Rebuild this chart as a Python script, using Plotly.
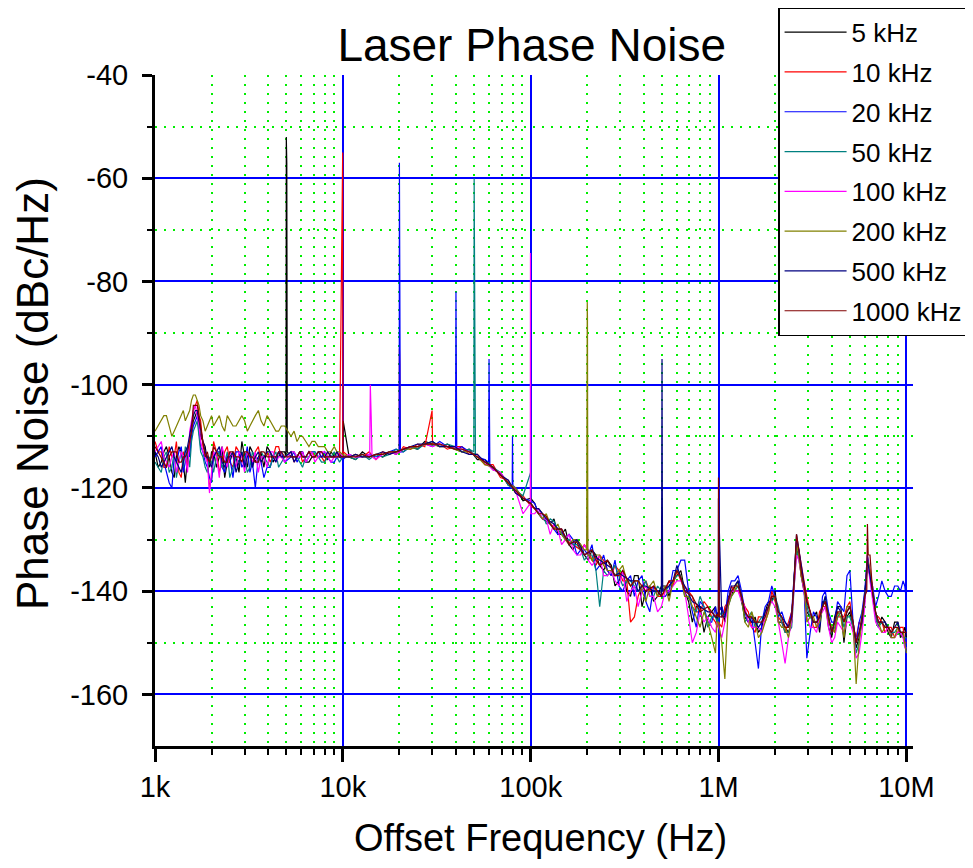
import plotly.graph_objects as go

# ---------------- data ----------------
FREQ_HZ = [
    1000, 1080, 1150, 1230, 1300, 1380, 1450, 1530, 1600, 1680, 1750, 1850, 1950, 2050, 2200,
    2350, 2500, 2700, 2900, 3100, 3300, 3550, 3800, 4100, 4400, 4700, 5300, 5700, 6100, 6600,
    7100, 7700, 8300, 9000, 9600,
    10000, 10800, 11700, 12700, 13800, 15000, 16300, 17700, 19200, 21000, 22900, 25000, 27300,
    30000, 32800, 36000, 39500, 43000, 47000, 52000, 57000, 63000, 69000, 76000, 83000, 91000,
    100000, 110000, 121000, 133000, 146000, 160000, 176000, 193000, 212000, 233000, 256000,
    281000, 309000, 340000, 373000, 410000, 451000, 496000, 545000, 600000, 660000, 725000,
    797000, 876000, 963000,
    1000000, 1080000, 1170000, 1270000, 1380000, 1500000, 1630000, 1770000, 1920000, 2080000,
    2260000, 2450000, 2600000, 2750000, 2950000, 3200000, 3450000, 3700000, 4000000, 4300000,
    4650000, 5000000, 5400000, 5800000, 6200000, 6600000, 7100000, 7700000, 8300000, 9000000,
    9600000, 10000000,
]

# extra in-between frequencies in the noisy regions
FREQ_MID_HZ = [
    1040, 1115, 1190, 1265, 1340, 1415, 1490, 1565, 1640, 1715, 1800, 1900, 2000, 2125, 2275,
    2425, 2600, 2800, 3000, 3200, 3420, 3670, 3950, 4250, 4550, 4900, 5500, 5900, 6350, 6850,
    7400, 8000, 8650, 9300,
    105000, 115500, 127000, 139500, 153000, 168000, 184500, 202500, 222500, 244500, 268500,
    295000, 324500, 356500, 391500, 430500, 473500, 520500, 572500, 630000, 692500, 761000,
    836500, 919500, 981500,
    1040000, 1125000, 1220000, 1325000, 1440000, 1565000, 1700000, 1845000, 2000000, 2170000,
    2355000, 2525000, 2675000, 2850000, 3075000, 3325000, 3575000, 3850000, 4150000, 4475000,
    4825000, 5200000, 5600000, 6000000, 6400000, 6850000, 7400000, 8000000, 8650000, 9300000,
    9800000,
]

SERIES_NAMES = ["5 kHz", "10 kHz", "20 kHz", "50 kHz", "100 kHz", "200 kHz", "500 kHz", "1000 kHz"]
SERIES_COLORS = ["#000000", "#FF0000", "#0000FF", "#008080", "#FF00FF", "#808000", "#000080", "#800000"]

PN_5K = [
    -113, -115, -112, -117, -114, -113, -119, -111, -107, -105, -110, -112, -116, -113, -114,
    -118, -115, -114, -111, -116, -113, -114, -116, -113, -114, -113, -114, -114, -113, -115,
    -114, -113, -114.5, -114, -113.5,
    -113.5, -114, -114.5, -113, -114, -113.5, -114, -113, -113.5, -112.5, -112, -112.5, -111,
    -111.5, -112, -111.5, -112.5, -113, -112.5, -114.5, -114.5, -116.5, -117, -119.5, -120, -122.5,
    -122, -125, -126.5, -126, -129, -131, -130, -133, -132, -135, -134, -139, -136, -141, -137,
    -140, -142, -139, -141, -137, -140, -146, -143, -145, -143,
    -144, -146, -141, -138, -145, -146, -148, -144, -142, -146, -147, -146, -132, -137, -144,
    -145, -148, -142, -149, -143, -150, -144, -151, -146, -135, -141, -147, -146, -149, -146,
    -148, -149,
]
PN_10K = [
    -111, -113, -116, -114, -111, -118, -114, -112, -105, -103, -107, -113, -120, -111, -117,
    -113, -115, -112, -114, -113, -116, -112, -114, -115, -112, -114, -113, -114, -115, -113,
    -114, -114, -113, -114, -114,
    -114, -114, -113.5, -114, -113, -114.5, -113, -113.5, -113, -112, -112.5, -111.5, -112,
    -111, -111.5, -112.5, -112, -112, -113.5, -113.5, -115.5, -115.5, -118, -118.5, -121, -121.5,
    -123.5, -124, -125.5, -127.5, -128, -130.5, -131.5, -131, -134, -133, -136, -135, -138, -146,
    -141, -138, -139, -141, -138, -136, -139, -141, -144, -143, -146,
    -146, -143, -139, -140, -143, -147, -145, -146, -140, -145, -148, -144, -131, -135, -141,
    -147, -144, -143, -147, -145, -145, -142, -149, -147, -133, -139, -145, -148, -147, -148,
    -147, -150,
]
PN_20K = [
    -114, -112, -117, -120, -115, -112, -115, -114, -108, -106, -112, -115, -118, -114, -113,
    -117, -114, -113, -116, -112, -115, -114, -118, -116, -114, -113, -114, -115, -113, -114,
    -113, -114, -114, -115, -114,
    -114.5, -113.5, -114, -114, -113.5, -114, -113.5, -113, -112.5, -113, -112, -112, -111.5,
    -112, -111, -112, -112.5, -112, -113, -114, -114.5, -116, -117.5, -119, -120, -122,
    -122.5, -125, -126, -128, -128.5, -129, -133, -132, -131, -135, -136, -134, -140, -137, -138,
    -142, -139, -141, -140, -136, -134, -144, -142, -146, -143,
    -144, -145, -138, -137, -144, -145, -155, -143, -139, -145, -146, -144, -130, -136, -153,
    -144, -147, -140, -146, -142, -144, -136, -150, -144, -133, -139, -141, -140, -141, -139,
    -138, -142,
]
PN_50K = [
    -115, -117, -113, -116, -118, -113, -112, -116, -109, -107, -113, -116, -114, -117, -113,
    -115, -118, -114, -113, -117, -113, -115, -114, -116, -113, -115, -113, -114, -116, -114,
    -113, -115, -114, -113, -115,
    -114, -114, -114.5, -113.5, -114.5, -113.5, -114, -113.5, -112.5, -113, -112, -112.5, -111.5,
    -111, -112, -111.5, -112, -113, -112.5, -114, -115, -116, -117, -119.5, -120.5, -121.5,
    -123, -124, -127, -126.5, -129, -130, -131, -134, -133, -143, -137, -135, -139, -138, -140,
    -138, -141, -140, -139, -137, -141, -143, -141, -147, -145,
    -145, -145, -141, -139, -146, -144, -146, -145, -142, -143, -148, -147, -132, -136, -143,
    -146, -146, -141, -148, -145, -147, -145, -152, -144, -135, -140, -147, -147, -148, -147,
    -149, -149,
]
PN_100K = [
    -113, -111, -115, -114, -117, -113, -114, -109, -105, -106, -111, -114, -121, -113, -118,
    -114, -113, -116, -114, -113, -115, -117, -114, -113, -115, -114, -113, -114, -113, -114,
    -115, -113, -114, -114, -113,
    -114, -113.5, -114, -114, -113.5, -114.5, -113.5, -113, -113.5, -112.5, -112, -112, -111.5,
    -112, -111.5, -112, -112, -112.5, -113, -114, -115, -116.5, -117, -119, -120.5, -125,
    -125, -124, -126, -127, -131, -129, -133, -131, -135, -133, -137, -138, -136, -140, -143,
    -139, -141, -143, -140, -138, -140, -150, -144, -145, -148,
    -147, -146, -140, -140, -143, -147, -147, -145, -142, -146, -154, -146, -133, -137, -145,
    -147, -145, -143, -150, -146, -148, -146, -153, -148, -134, -142, -147, -148, -149, -148,
    -149, -151,
]
PN_200K = [
    -109, -107, -106, -110, -108, -106, -107, -105, -102, -103, -106, -109, -107, -108, -106,
    -109, -107, -108, -106, -109, -107, -105, -108, -107, -109, -108, -110, -111, -110, -112,
    -111, -112, -113, -112, -113,
    -113.5, -114, -113.5, -114, -114, -113.5, -113.5, -113, -113, -112.5, -112.5, -112, -111.5,
    -111.5, -112, -112, -112.5, -113, -113, -114, -115.5, -116, -117.5, -119, -120, -122,
    -123, -125, -125, -128, -129, -131, -130, -132, -134, -133, -136, -137, -135, -139, -138,
    -142, -138, -140, -142, -136, -141, -143, -147, -146, -152,
    -146, -157, -141, -138, -146, -144, -149, -146, -141, -146, -147, -145, -131, -137, -146,
    -145, -146, -142, -147, -144, -149, -143, -158, -146, -134, -140, -146, -147, -149, -147,
    -148, -152,
]
PN_500K = [
    -113, -116, -114, -112, -115, -117, -113, -110, -106, -105, -109, -113, -115, -114, -112,
    -116, -114, -117, -113, -114, -116, -113, -114, -113, -115, -114, -113, -114, -114, -113,
    -114, -114, -113, -114, -114,
    -114, -114, -113.5, -114, -114, -113.5, -113, -113.5, -113, -112.5, -112, -111.5, -111.5,
    -111, -112, -112, -112, -113, -113.5, -113.5, -115, -116, -117.5, -118.5, -121, -122,
    -123, -124, -126, -127, -128, -131, -130, -133, -132, -134, -135, -137, -137, -138, -140,
    -139, -140, -141, -139, -135, -139, -142, -143, -144, -145,
    -123, -145, -139, -138, -144, -146, -147, -144, -141, -144, -146, -145, -129, -135, -142,
    -146, -145, -141, -148, -143, -146, -143, -150, -146, -134, -140, -146, -146, -148, -146,
    -148, -148,
]
PN_1000K = [
    -112, -114, -116, -113, -113, -115, -114, -111, -104, -104, -108, -114, -115, -112, -114,
    -115, -113, -114, -115, -113, -114, -115, -113, -114, -114, -113, -114, -114, -114, -113,
    -114, -113, -114, -114, -114,
    -114, -114, -114, -113.5, -114, -113.5, -113.5, -113, -113, -112.5, -112, -112, -111.5,
    -111.5, -111.5, -112, -112.5, -112.5, -113, -114, -115, -116, -117.5, -119, -120.5, -122,
    -123, -125, -125.5, -128, -128, -131, -130.5, -133, -132, -135, -134, -137, -136, -139, -138,
    -140, -139, -141, -138, -136, -140, -141, -144, -143, -145,
    -122, -144, -140, -139, -144, -145, -146, -145, -141, -144, -147, -145, -129, -136, -142,
    -146, -145, -142, -148, -144, -146, -143, -150, -145, -127, -140, -146, -147, -148, -147,
    -148, -148,
]

# levels at FREQ_MID_HZ
MID_5K = [
    -116, -113, -114, -118, -112, -115, -114, -109, -106, -108, -111, -115, -113, -116, -112,
    -115, -113, -117, -114, -112, -115, -113, -112, -115, -114, -113, -114, -113, -115, -114,
    -113, -114, -113, -114,
    -123, -126, -127, -129, -128, -132, -131, -134, -133, -136, -135, -138, -140, -137, -143,
    -139, -141, -139, -138, -136, -142, -143, -148, -144, -146,
    -143, -141, -139, -142, -146, -145, -147, -142, -140, -146, -148, -137, -133, -140, -145,
    -144, -142, -147, -145, -143, -145, -147, -149, -140, -137, -145, -145, -148, -146, -149,
    -147,
]
MID_10K = [
    -113, -116, -112, -114, -117, -113, -116, -110, -104, -106, -112, -114, -118, -113, -115,
    -112, -116, -113, -115, -114, -113, -115, -113, -114, -112, -114, -115, -113, -114, -113,
    -114, -115, -114, -113,
    -124, -125, -127, -128, -130, -131, -132, -132, -135, -134, -137, -136, -138, -145, -139,
    -140, -141, -140, -139, -138, -140, -144, -142, -145, -147,
    -147, -142, -140, -141, -144, -148, -145, -144, -142, -146, -146, -139, -132, -138, -144,
    -147, -143, -146, -148, -145, -143, -147, -146, -142, -136, -145, -146, -147, -149, -147,
    -150,
]
MID_20K = [
    -113, -115, -119, -114, -113, -117, -112, -110, -107, -109, -113, -116, -119, -113, -116,
    -114, -118, -113, -115, -117, -120, -115, -116, -114, -113, -115, -113, -114, -115, -113,
    -114, -113, -115, -114,
    -123, -126, -127, -129, -130, -130, -132, -133, -136, -133, -137, -139, -138, -141, -137,
    -144, -140, -141, -136, -134, -140, -147, -143, -146, -145,
    -143, -140, -138, -140, -146, -150, -146, -142, -141, -144, -147, -137, -132, -139, -148,
    -145, -141, -144, -146, -143, -137, -146, -146, -140, -137, -143, -138, -141, -139, -140,
    -139,
]
MID_50K = [
    -116, -114, -117, -113, -115, -116, -113, -111, -108, -110, -114, -117, -115, -114, -116,
    -113, -116, -115, -114, -116, -114, -113, -115, -114, -116, -114, -113, -115, -114, -113,
    -114, -115, -114, -114,
    -124, -125, -126, -128, -130, -131, -132, -133, -136, -136, -136, -137, -138, -139, -140,
    -141, -139, -140, -138, -137, -141, -144, -143, -145, -146,
    -144, -143, -140, -141, -145, -147, -145, -143, -141, -146, -148, -138, -134, -139, -145,
    -146, -143, -145, -147, -144, -145, -147, -150, -142, -137, -145, -146, -147, -148, -148,
    -149,
]
MID_100K = [
    -112, -114, -116, -113, -115, -114, -117, -107, -104, -108, -113, -115, -117, -114, -112,
    -116, -114, -113, -117, -114, -113, -114, -116, -113, -114, -115, -113, -114, -115, -113,
    -114, -113, -115, -114,
    -125, -126, -129, -128, -130, -132, -133, -134, -134, -137, -136, -139, -142, -139, -140,
    -141, -144, -140, -139, -138, -145, -148, -146, -147, -146,
    -149, -143, -140, -142, -146, -147, -148, -143, -143, -150, -149, -139, -134, -140, -147,
    -148, -144, -147, -149, -147, -146, -148, -152, -143, -138, -146, -148, -147, -149, -148,
    -151,
]
MID_200K = [
    -108, -106, -108, -109, -107, -105, -106, -103, -102, -104, -107, -108, -106, -107, -108,
    -106, -108, -107, -107, -108, -106, -107, -106, -108, -109, -108, -109, -110, -111, -111,
    -112, -112, -113, -113,
    -124, -126, -127, -127, -130, -130, -131, -133, -133, -135, -136, -136, -138, -138, -140,
    -139, -141, -139, -138, -137, -141, -145, -144, -149, -146,
    -150, -143, -140, -141, -147, -146, -148, -144, -141, -147, -149, -137, -133, -139, -145,
    -147, -143, -146, -148, -145, -143, -146, -150, -141, -136, -144, -148, -147, -149, -148,
    -150,
]
MID_500K = [
    -114, -115, -113, -114, -116, -115, -112, -108, -105, -107, -111, -114, -116, -113, -115,
    -114, -113, -115, -116, -113, -114, -115, -113, -114, -113, -114, -115, -113, -114, -114,
    -113, -114, -114, -113,
    -124, -125, -126.5, -128, -129.5, -130.5, -131.5, -132.5, -133.5, -134.5, -135.5, -136.5,
    -137.5, -138, -139, -139.5, -140, -139.5, -138, -137.5, -140.5, -142.5, -143.5, -144, -144.5,
    -145, -142, -139, -141, -145, -146, -146, -143, -141, -145, -147, -138, -132, -139, -144,
    -146, -143, -145, -146, -144, -144, -146, -148, -141, -137, -144, -146, -147, -147, -148,
    -148,
]
MID_1000K = [
    -113, -115, -114, -113, -115, -114, -113, -109, -104, -106, -111, -113, -114, -113, -114,
    -115, -113, -114, -113, -114, -115, -113, -114, -114, -113, -114, -114, -113, -114, -114,
    -113, -114, -114, -114,
    -124, -125, -127, -128, -129.5, -130.5, -132, -132.5, -134, -134.5, -135.5, -137, -137.5,
    -138, -139, -139.5, -140, -139.5, -138, -137.5, -140.5, -142.5, -143.5, -144, -144.5,
    -145, -142, -139, -141, -145, -146, -146, -143, -141, -145, -147, -138, -132, -139, -144,
    -146, -143, -145, -146, -144, -144, -146, -148, -141, -133, -144, -146, -147, -147, -148,
    -148,
]

# modulation spurs (frequency, level) per series
SPUR_F_5K = [4980, 5000, 5030, 5060, 9970, 10040]
SPUR_L_5K = [-114, -52, -57, -113, -114, -107]
SPUR_F_10K = [9980, 10030, 10060, 19950, 20000, 20080, 20150, 29850, 30150]
SPUR_L_10K = [-55, -69, -113, -113, -93, -96, -113, -105, -111.5]
SPUR_F_20K = [19950, 20000, 20070, 20150, 20250, 39800, 40000, 40200, 40400,
              59700, 60000, 60300, 60600, 79700, 80000, 80400]
SPUR_L_20K = [-113, -57, -78, -92, -113, -112, -82, -97, -112.5,
              -115, -95, -108, -115.5, -119.5, -110, -119.5]
SPUR_F_50K = [49800, 50000, 50100, 50300, 50500, 50800, 99900]
SPUR_L_50K = [-113, -60, -66, -90, -98, -114, -117]
SPUR_F_100K = [13900, 14000, 14150, 14300, 99500, 99700, 99850, 199000, 200000, 201000]
SPUR_L_100K = [-114, -100, -106, -114, -123, -74.5, -99, -132, -125, -132]
SPUR_F_200K = [198500, 199500, 200000, 200500, 201500]
SPUR_L_200K = [-132, -87, -84, -87, -133]
SPUR_F_500K = [498000, 499000, 500000, 501000, 502000, 504000, 997000, 998500]
SPUR_L_500K = [-122, -100, -95, -105, -122, -140, -144, -122]
SPUR_F_1000K = [998000, 999000, 1010000, 6150000, 6260000]
SPUR_L_1000K = [-145, -118, -145, -140, -133]

X_TICK_VALS = [1e3, 1e4, 1e5, 1e6, 1e7]
X_TICK_TEXT = ["1k", "10k", "100k", "1M", "10M"]
X_MINOR_VALS = [m * d for d in (1e3, 1e4, 1e5, 1e6) for m in range(2, 10)]
Y_TICK_VALS = [-160, -140, -120, -100, -80, -60, -40]
Y_TICK_TEXT = ["-160", "-140", "-120", "-100", "-80", "-60", "-40"]
Y_MINOR_VALS = [-150, -130, -110, -90, -70, -50]

LEVELS = [PN_5K, PN_10K, PN_20K, PN_50K, PN_100K, PN_200K, PN_500K, PN_1000K]
MIDS = [MID_5K, MID_10K, MID_20K, MID_50K, MID_100K, MID_200K, MID_500K, MID_1000K]
SPUR_F = [SPUR_F_5K, SPUR_F_10K, SPUR_F_20K, SPUR_F_50K, SPUR_F_100K, SPUR_F_200K, SPUR_F_500K, SPUR_F_1000K]
SPUR_L = [SPUR_L_5K, SPUR_L_10K, SPUR_L_20K, SPUR_L_50K, SPUR_L_100K, SPUR_L_200K, SPUR_L_500K, SPUR_L_1000K]

for lv, md, sf, sl in zip(LEVELS, MIDS, SPUR_F, SPUR_L):
    if len(lv) != len(FREQ_HZ) or len(md) != len(FREQ_MID_HZ) or len(sf) != len(sl):
        raise SystemExit("length mismatch %d %d %d %d" % (len(lv), len(md), len(sf), len(sl)))


def merged(levels, mids, sf, sl):
    pts = sorted(list(zip(FREQ_HZ, levels)) + list(zip(FREQ_MID_HZ, mids)) + list(zip(sf, sl)),
                 key=lambda p: p[0])
    return [p[0] for p in pts], [p[1] for p in pts]


FONT = "Liberation Sans, Arial, sans-serif"

fig = go.Figure()
for name, color, lv, md, sf, sl in zip(SERIES_NAMES, SERIES_COLORS, LEVELS, MIDS, SPUR_F, SPUR_L):
    xs, ys = merged(lv, md, sf, sl)
    fig.add_trace(go.Scatter(x=xs, y=ys, mode="lines", name=name, legendgroup=name,
                             line=dict(color=color, width=1.2)))

# the page body adds an 8 px offset, so the figure is sized to fit the 973x868 window
fig.update_layout(
    width=965, height=860,
    margin=dict(l=147, r=60, t=67, b=122, autoexpand=False),
    paper_bgcolor="white", plot_bgcolor="white",
    font=dict(family=FONT, color="black"),
    title=dict(text="Laser Phase Noise", x=0.497, xref="paper", xanchor="center",
               y=1 - 37 / 860, yref="container", yanchor="middle",
               font=dict(size=46, family=FONT, color="black")),
    showlegend=True,
    legend=dict(x=0.822, y=1.101, xanchor="left", yanchor="top", bgcolor="white",
                bordercolor="black", borderwidth=1.5, font=dict(size=26, family=FONT),
                itemwidth=62, traceorder="grouped", tracegroupgap=3),
    annotations=[
        dict(text="Offset Frequency (Hz)", xref="paper", yref="paper", x=0.509, y=-0.137,
             xanchor="center", yanchor="middle", showarrow=False, font=dict(size=38, family=FONT)),
        dict(text="Phase Noise (dBc/Hz)", xref="paper", yref="paper", x=-0.1623, y=0.526,
             xanchor="center", yanchor="middle", textangle=-90, showarrow=False,
             font=dict(size=44, family=FONT)),
    ],
)

fig.update_xaxes(
    type="log", range=[3, 7.035], tickvals=X_TICK_VALS, ticktext=X_TICK_TEXT,
    ticks="outside", ticklen=13, tickwidth=2.5, tickcolor="black",
    showline=True, linecolor="black", linewidth=3, zeroline=False, automargin=False,
    showgrid=True, gridcolor="#0000FF", gridwidth=1.5,
    tickfont=dict(size=29, family=FONT),
    minor=dict(tickvals=X_MINOR_VALS, ticks="outside", ticklen=6, tickwidth=2, tickcolor="black",
               showgrid=True, gridcolor="#00EE00", griddash="2px,7px", gridwidth=1.5),
)
fig.update_yaxes(
    range=[-170, -40], tickvals=Y_TICK_VALS, ticktext=Y_TICK_TEXT,
    ticks="outside", ticklen=10, tickwidth=2.5, tickcolor="black",
    showline=True, linecolor="black", linewidth=3, zeroline=False, automargin=False,
    showgrid=True, gridcolor="#0000FF", gridwidth=1.5,
    tickfont=dict(size=29, family=FONT), ticklabelstandoff=8,
    minor=dict(tickvals=Y_MINOR_VALS, ticks="outside", ticklen=5, tickwidth=2, tickcolor="black",
               showgrid=True, gridcolor="#00EE00", griddash="2px,7px", gridwidth=1.5),
)

fig.write_html("out.html")
